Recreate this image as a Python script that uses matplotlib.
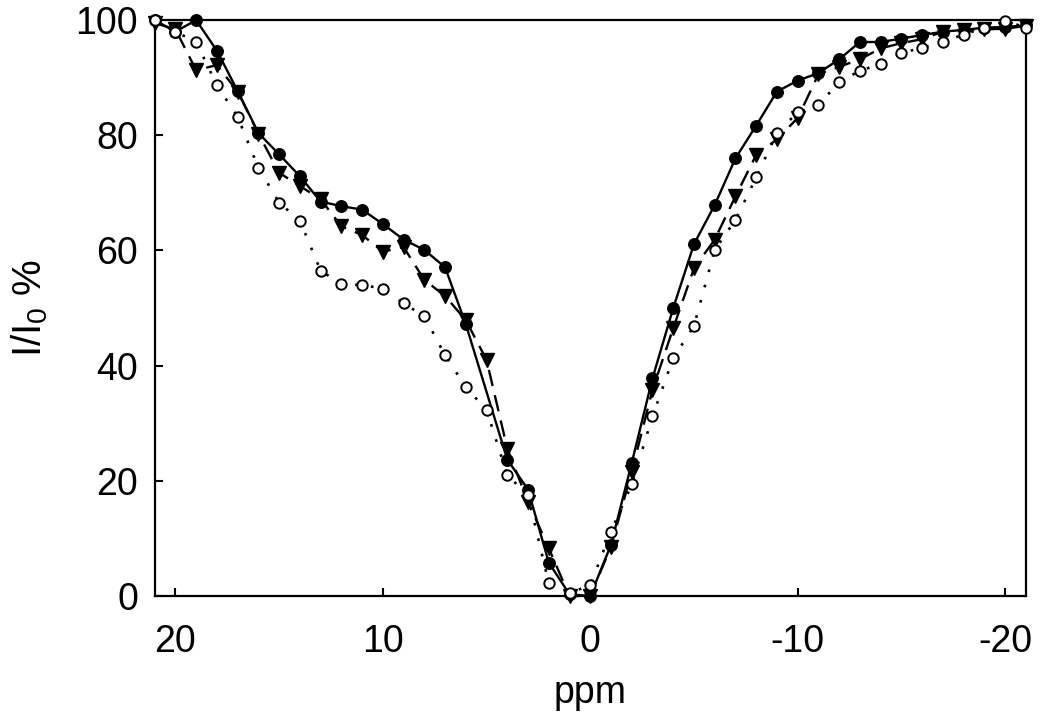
import matplotlib
matplotlib.use("Agg")
import matplotlib.pyplot as plt

plt.rcParams['font.family'] = ['Liberation Sans', 'DejaVu Sans']
plt.rcParams['mathtext.fontset'] = 'custom'
plt.rcParams['mathtext.rm'] = 'Liberation Sans'
plt.rcParams['mathtext.default'] = 'regular'

# chemical shift offsets (ppm)
ppm_all = [21, 20, 19, 18, 17, 16, 15, 14, 13, 12, 11, 10, 9, 8, 7, 6, 5, 4, 3, 2, 1, 0,
           -1, -2, -3, -4, -5, -6, -7, -8, -9, -10, -11, -12, -13, -14, -15, -16, -17,
           -18, -19, -20, -21]

# filled circles (no point at 5 ppm)
ppm_filled = [21, 20, 19, 18, 17, 16, 15, 14, 13, 12, 11, 10, 9, 8, 7, 6, 4, 3, 2, 1, 0,
              -1, -2, -3, -4, -5, -6, -7, -8, -9, -10, -11, -12, -13, -14, -15, -16, -17,
              -18, -19, -20, -21]
filled = [100, 98, 100, 94.7, 87.7, 80.4, 76.7, 72.9, 68.5, 67.7, 67.1, 64.6, 61.9, 60.1,
          57.1, 47.2, 23.7, 18.5, 5.8, 0.3, 0.0,
          8.9, 23.1, 37.8, 50.0, 61.1, 67.9, 76.0, 81.7, 87.6, 89.5, 90.8, 93.2, 96.2, 96.2,
          96.8, 97.4, 98.0, 98.3, 98.7, 98.8, 99.1]

# filled triangles
triangles = [99.5, 98.4, 91.3, 92.2, 87.6, 80.3, 73.5, 71.2, 68.9, 64.2, 62.7, 59.8, 60.6,
             54.9, 52.1, 47.9, 41.0, 25.6, 16.4, 8.3, 0.0, 0.0,
             8.6, 21.6, 35.8, 46.5, 56.9, 61.9, 69.4, 76.6, 79.3, 83.0, 90.6, 91.9, 93.2,
             95.1, 96.0, 96.7, 98.0, 98.3, 98.4, 98.5, 99.0]

# open circles
open_circles = [100, 98, 96.2, 88.7, 83.2, 74.4, 68.3, 65.2, 56.5, 54.2, 54.0, 53.4, 50.8,
                48.6, 41.8, 36.3, 32.3, 21.0, 17.5, 2.2, 0.5, 1.9,
                11.2, 19.4, 31.2, 41.3, 46.9, 60.1, 65.3, 72.7, 80.4, 84.0, 85.2, 89.3, 91.2,
                92.4, 94.3, 95.2, 96.2, 97.5, 98.7, 99.9, 98.7]

x_ticks = [20, 10, 0, -10, -20]
x_tick_labels = ['20', '10', '0', '-10', '-20']
y_ticks = [0, 20, 40, 60, 80, 100]

fig = plt.figure(figsize=(10.5, 7.19), dpi=100)
ax = fig.add_axes([0.1473, 0.171, 0.977 - 0.1473, 0.972 - 0.171])

ax.plot(ppm_filled, filled, linestyle='-', color='black', linewidth=1.7,
        marker='o', markersize=8.3, markerfacecolor='black', markeredgecolor='black',
        clip_on=False, zorder=3)
ax.plot(ppm_all, triangles, linestyle=(0, (7, 4)), color='black', linewidth=1.7,
        marker='v', markersize=10.5, markerfacecolor='black', markeredgecolor='black',
        clip_on=False, zorder=4)
ax.plot(ppm_all, open_circles, linestyle=(0, (1, 5)), color='black', linewidth=1.9,
        marker='o', markersize=7.5, markerfacecolor='white', markeredgecolor='black',
        markeredgewidth=1.4, clip_on=False, zorder=5)

ax.set_xlim(21, -21)
ax.set_ylim(0, 100)
ax.set_xticks(x_ticks)
ax.set_xticklabels(x_tick_labels)
ax.set_yticks(y_ticks)

for s in ax.spines.values():
    s.set_linewidth(1.6)

ax.tick_params(axis='both', direction='in', length=6, width=1.5, labelsize=27,
               top=False, right=False)
ax.tick_params(axis='x', pad=20)
ax.tick_params(axis='y', pad=12)

ax.set_xlabel('ppm', fontsize=27)
ax.set_ylabel(r'I/I$_0$ %', fontsize=29)
ax.xaxis.set_label_coords(0.5, -0.137)
ax.yaxis.set_label_coords(-0.12, 0.5)

fig.savefig('out.png', dpi=100)
